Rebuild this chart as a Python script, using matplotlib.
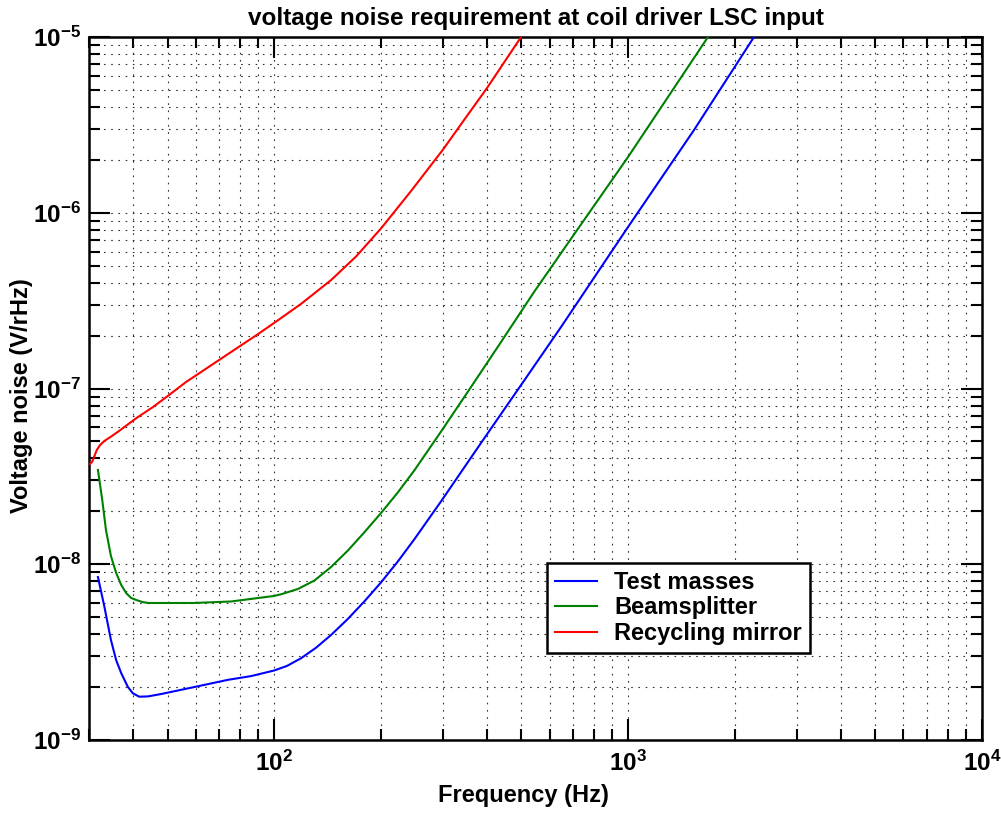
import math

import matplotlib
matplotlib.use("Agg")
import matplotlib.pyplot as plt
from matplotlib.ticker import LogLocator, FuncFormatter, NullFormatter

plt.rcParams.update({
    "font.family": ["Liberation Sans", "DejaVu Sans"],
    "font.weight": "bold",
    "mathtext.fontset": "custom",
    "mathtext.rm": "Liberation Sans:bold",
    "mathtext.bf": "Liberation Sans:bold",
    "mathtext.default": "bf",
})

# data (Hz, V/rHz)
test_freq = [31.8, 33.16, 34.6, 35.79, 37.0, 38.6, 39.9, 41.6, 44.0, 48.0, 59.4, 74.1,
             86.1, 100, 108.8, 119.2, 131.4, 144.9, 161.5, 179.7, 200.5, 223.6, 248.9,
             296.3, 384.3, 498.7, 646.9, 1000, 1536, 2269]
test_noise = [8.46e-9, 5.73e-9, 3.71e-9, 2.85e-9, 2.40e-9, 2.01e-9, 1.844e-9, 1.764e-9,
              1.77e-9, 1.827e-9, 2.00e-9, 2.20e-9, 2.31e-9, 2.485e-9, 2.64e-9, 2.92e-9,
              3.35e-9, 3.96e-9, 4.88e-9, 6.13e-9, 7.88e-9, 1.036e-8, 1.385e-8, 2.28e-8,
              4.90e-8, 1.047e-7, 2.24e-7, 8.30e-7, 2.956e-6, 1.0e-5]

bs_freq = [31.8, 32.7, 33.5, 34.6, 35.8, 37.0, 38.2, 39.45, 40.8, 42.4, 44.1, 59.4,
           75.6, 100, 104.7, 116.7, 130.0, 144.9, 161.5, 179.7, 200.5, 223.6, 248.9,
           296.3, 360.1, 437.7, 542.5, 677.0, 1000, 1682]
bs_noise = [3.44e-8, 2.32e-8, 1.566e-8, 1.114e-8, 8.92e-9, 7.62e-9, 6.86e-9, 6.43e-9,
            6.26e-9, 6.10e-9, 6.02e-9, 6.02e-9, 6.14e-9, 6.60e-9, 6.75e-9, 7.23e-9,
            8.08e-9, 9.65e-9, 1.195e-8, 1.516e-8, 1.956e-8, 2.56e-8, 3.415e-8, 5.69e-8,
            1.020e-7, 1.839e-7, 3.54e-7, 6.73e-7, 2.076e-6, 1.0e-5]

rm_freq = [30.2, 30.62, 31.08, 31.56, 32.25, 33.16, 34.6, 36.56, 40.76, 45.5, 50.5,
           56.4, 62.2, 75.6, 90.1, 100, 119.2, 144.9, 170.5, 200.5, 243.8, 300.2,
           344.1, 399.7, 446.4, 498.7]
rm_noise = [3.72e-8, 3.83e-8, 4.13e-8, 4.47e-8, 4.77e-8, 5.03e-8, 5.32e-8, 5.75e-8,
            6.77e-8, 7.85e-8, 9.18e-8, 1.089e-7, 1.241e-7, 1.613e-7, 2.04e-7, 2.36e-7,
            3.03e-7, 4.14e-7, 5.64e-7, 8.14e-7, 1.33e-6, 2.29e-6, 3.37e-6, 5.13e-6,
            7.16e-6, 1.0e-5]

labels = ["Test masses", "Beamsplitter", "Recycling mirror"]
colors = ["#0000ff", "#008000", "#ff0000"]

XLIM = (30, 1e4)
YLIM = (1e-9, 1e-5)

fig = plt.figure(figsize=(10.01, 8.14), dpi=100)
ax = fig.add_axes([89 / 1001, 74 / 814, 893 / 1001, 703 / 814])

for f, v, lab, c in zip([test_freq, bs_freq, rm_freq],
                        [test_noise, bs_noise, rm_noise], labels, colors):
    ax.loglog(f, v, color=c, linewidth=1.5, label=lab, zorder=3)

ax.set_xlim(*XLIM)
ax.set_ylim(*YLIM)


def pow_label(lims):
    # only label decades that lie inside the axis range
    def _fmt(val, pos):
        if val < lims[0] * 0.999 or val > lims[1] * 1.001:
            return ""
        return r"$\mathbf{10^{%d}}$" % round(math.log10(val))
    return FuncFormatter(_fmt)


ax.xaxis.set_major_locator(LogLocator(base=10, numticks=10))
ax.yaxis.set_major_locator(LogLocator(base=10, numticks=10))
ax.xaxis.set_minor_locator(LogLocator(base=10, subs=range(2, 10), numticks=20))
ax.yaxis.set_minor_locator(LogLocator(base=10, subs=range(2, 10), numticks=20))
ax.xaxis.set_major_formatter(pow_label(XLIM))
ax.yaxis.set_major_formatter(pow_label(YLIM))
ax.xaxis.set_minor_formatter(NullFormatter())
ax.yaxis.set_minor_formatter(NullFormatter())

ax.tick_params(which="both", direction="in", top=True, right=True, width=1.5,
               labelsize=17.5)
ax.tick_params(which="major", length=15)
ax.tick_params(which="minor", length=8)
ax.tick_params(axis="y", which="major", pad=6)
ax.tick_params(axis="x", which="major", pad=8)
for sp in ax.spines.values():
    sp.set_linewidth(1.8)

ax.grid(True, which="both", linestyle=(0, (1.5, 5)), color="#333333", linewidth=0.8)

ax.set_title("voltage noise requirement at coil driver LSC input",
             fontsize=17.5, fontweight="bold", pad=9)
ax.set_xlabel("Frequency (Hz)", fontsize=17, fontweight="bold", labelpad=0)
ax.xaxis.set_label_coords(0.487, -0.062)
ax.set_ylabel("Voltage noise (V/rHz)", fontsize=17, fontweight="bold")
ax.yaxis.set_label_coords(-0.063, 0.49)

leg = ax.legend(loc="upper left", bbox_to_anchor=(0.513, 0.252), fontsize=17,
                fancybox=False, framealpha=1, edgecolor="black", borderaxespad=0,
                handlelength=1.75, borderpad=0.35, labelspacing=0.1,
                handletextpad=0.75)
leg.get_frame().set_linewidth(1.8)

fig.savefig("out.png", dpi=100)
